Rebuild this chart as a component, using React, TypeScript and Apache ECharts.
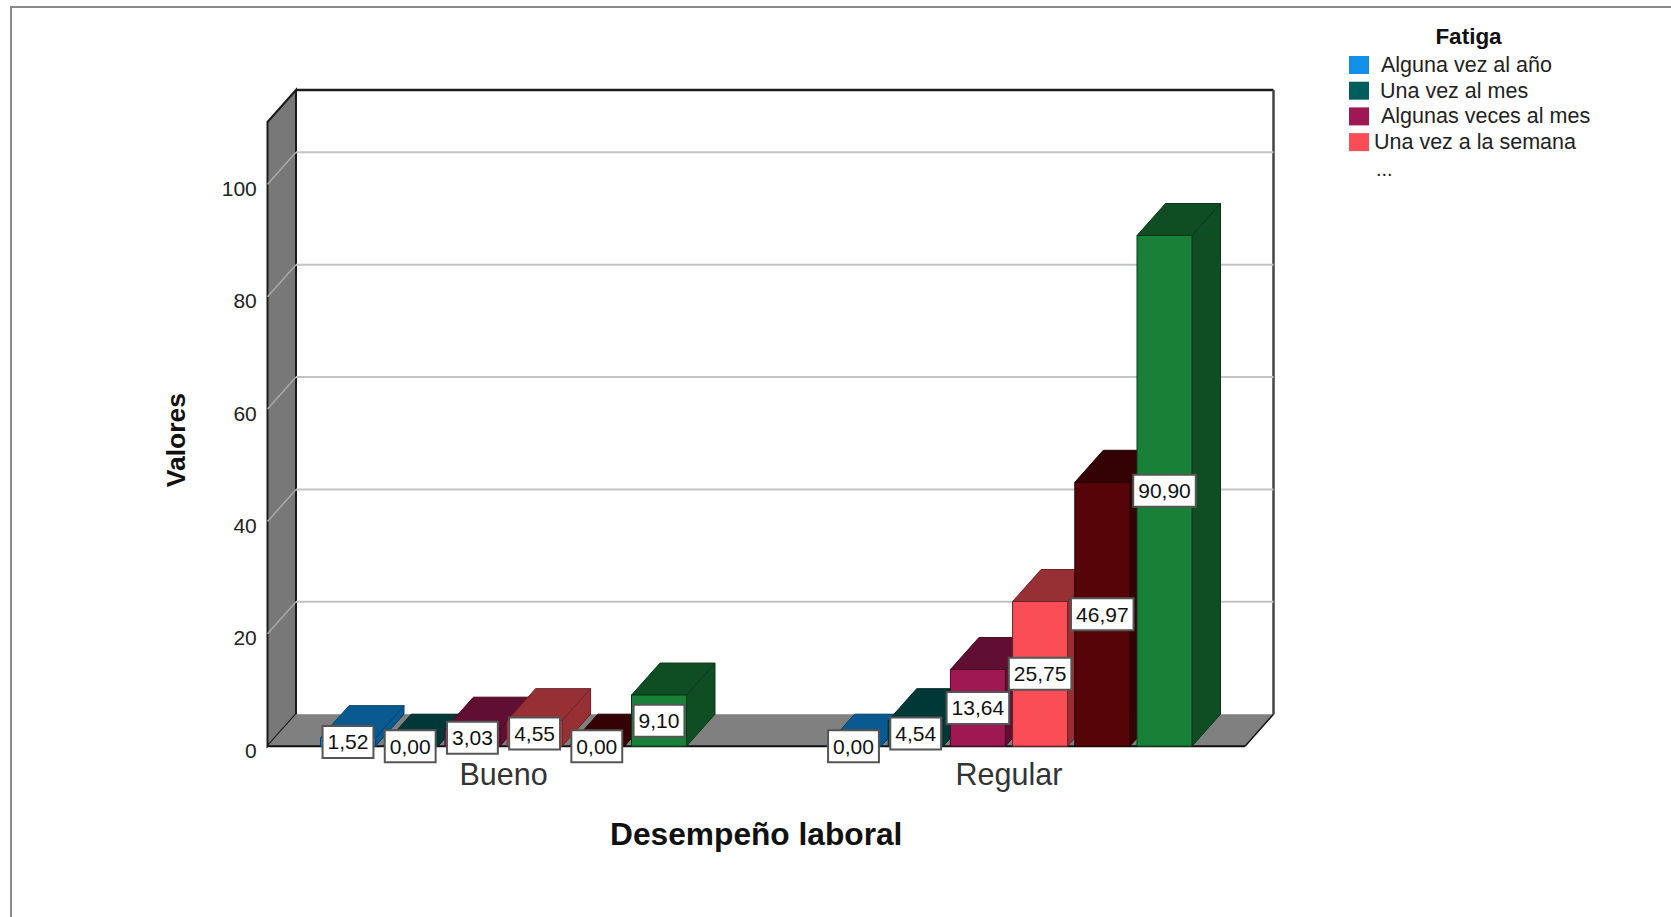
import React, { useEffect, useRef } from "react";
import * as echarts from "echarts";

const categories = ["Bueno", "Regular"];
const seriesNames = [
  "Alguna vez al año",
  "Una vez al mes",
  "Algunas veces al mes",
  "Una vez a la semana",
  "Pocas veces a la semana",
  "Todos los días",
];
const algunaVezAlAno = [1.52, 0.0];
const unaVezAlMes = [0.0, 4.54];
const algunasVecesAlMes = [3.03, 13.64];
const unaVezALaSemana = [4.55, 25.75];
const pocasVecesALaSemana = [0.0, 46.97];
const todosLosDias = [9.1, 90.9];
const seriesValues = [
  algunaVezAlAno,
  unaVezAlMes,
  algunasVecesAlMes,
  unaVezALaSemana,
  pocasVecesALaSemana,
  todosLosDias,
];
const frontColors = ["#1192e8", "#005d5d", "#9f1853", "#fa4d56", "#570408", "#198038"];
const topColors = ["#0a5a92", "#003838", "#600e32", "#973035", "#340205", "#0f4d22"];
const edgeColors = ["#07416a", "#002828", "#450a24", "#6d2327", "#240103", "#0b3818"];
const yTicks = [0, 20, 40, 60, 80, 100];
const legendLabelPadding = [7, 6, 7, 0];

const FONT = "'Liberation Sans', Arial, sans-serif";
const GRID_LEFT = 250.75;
const GRID_WIDTH = 1011;
const GRID_TOP = 122;
const GRID_BOTTOM_Y = 746.2;
const Y_MAX = 111.1;
const DEPTH_X = 28.5;
const DEPTH_Y = 32;
const WALL_LEFT = 267.5;
const WALL_RIGHT = 1245;
const BAR_WIDTH = 55;
const BAR_PITCH = 62.2;

export default function App() {
  const ref = useRef<HTMLDivElement>(null);

  useEffect(() => {
    if (!ref.current) return;
    const chart = echarts.init(ref.current, undefined, { renderer: "svg" });

    const wallSeries = {
      type: "custom",
      name: "wall",
      coordinateSystem: "cartesian2d",
      silent: true,
      z: 1,
      data: [[0, 0]],
      encode: { x: 0, y: 1 },
      renderItem: (_p: any, api: any) => {
        const base = api.coord([0, 0])[1];
        const top = api.coord([0, Y_MAX])[1];
        const bx = WALL_LEFT + DEPTH_X;
        const ex = WALL_RIGHT + DEPTH_X;
        return {
          type: "group",
          children: [
            {
              type: "polygon",
              shape: { points: [[WALL_LEFT, top], [bx, top - DEPTH_Y], [bx, base - DEPTH_Y], [WALL_LEFT, base]] },
              style: { fill: "#787878", stroke: "#1a1a1a", lineWidth: 2 },
            },
            {
              type: "polygon",
              shape: { points: [[WALL_LEFT, base], [bx, base - DEPTH_Y], [ex, base - DEPTH_Y], [WALL_RIGHT, base]] },
              style: { fill: "#808080", stroke: "none" },
            },
            { type: "line", shape: { x1: WALL_LEFT, y1: base, x2: WALL_RIGHT, y2: base }, style: { stroke: "#111", lineWidth: 2 } },
            { type: "line", shape: { x1: WALL_RIGHT, y1: base, x2: ex, y2: base - DEPTH_Y }, style: { stroke: "#111", lineWidth: 1.5 } },
            { type: "line", shape: { x1: bx, y1: top - DEPTH_Y, x2: ex, y2: top - DEPTH_Y }, style: { stroke: "#1a1a1a", lineWidth: 2.5 } },
            { type: "line", shape: { x1: ex, y1: top - DEPTH_Y, x2: ex, y2: base - DEPTH_Y }, style: { stroke: "#444", lineWidth: 2.5 } },
          ],
        };
      },
    };

    const gridSeries = {
      type: "custom",
      name: "grid",
      coordinateSystem: "cartesian2d",
      silent: true,
      z: 2,
      data: yTicks.filter((t) => t > 0).map((t) => [0, t]),
      encode: { x: 0, y: 1 },
      renderItem: (_p: any, api: any) => {
        const y = api.coord([0, api.value(1)])[1];
        const bx = WALL_LEFT + DEPTH_X;
        return {
          type: "group",
          children: [
            { type: "line", shape: { x1: WALL_LEFT, y1: y, x2: bx, y2: y - DEPTH_Y }, style: { stroke: "#a9a9a9", lineWidth: 1.5 } },
            { type: "line", shape: { x1: bx, y1: y - DEPTH_Y, x2: WALL_RIGHT + DEPTH_X, y2: y - DEPTH_Y }, style: { stroke: "#c4c4c4", lineWidth: 2 } },
          ],
        };
      },
    };

    const barSeries = seriesNames.map((name, i) => ({
      type: "custom",
      name,
      coordinateSystem: "cartesian2d",
      silent: true,
      z: 3,
      itemStyle: { color: frontColors[i] },
      data: seriesValues[i].map((v, c) => [c, v]),
      encode: { x: 0, y: 1 },
      renderItem: (_p: any, api: any) => {
        const cat = api.value(0);
        const val = api.value(1);
        const pTop = api.coord([cat, val]);
        const base = api.coord([cat, 0])[1];
        const cx = pTop[0] + (i - 2.5) * BAR_PITCH;
        const yTop = pTop[1];
        const x0 = cx - BAR_WIDTH / 2;
        const x1 = cx + BAR_WIDTH / 2;
        const stroke = edgeColors[i];
        const elements: any[] = [
          {
            type: "polygon",
            z2: i,
            shape: { points: [[x1, yTop], [x1 + DEPTH_X, yTop - DEPTH_Y], [x1 + DEPTH_X, base - DEPTH_Y], [x1, base]] },
            style: { fill: topColors[i], stroke, lineWidth: 1 },
          },
          {
            type: "polygon",
            z2: i,
            shape: { points: [[x0, yTop], [x0 + DEPTH_X, yTop - DEPTH_Y], [x1 + DEPTH_X, yTop - DEPTH_Y], [x1, yTop]] },
            style: { fill: topColors[i], stroke, lineWidth: 1 },
          },
          {
            type: "rect",
            z2: i,
            shape: { x: x0, y: yTop, width: BAR_WIDTH, height: base - yTop },
            style: { fill: frontColors[i], stroke, lineWidth: 1 },
          },
          {
            type: "text",
            z2: 100,
            x: cx,
            y: (yTop + base) / 2,
            style: {
              text: val.toFixed(2).replace(".", ","),
              font: `21px ${FONT}`,
              fill: "#111",
              align: "center",
              verticalAlign: "middle",
              lineHeight: 23,
              backgroundColor: "#fff",
              borderColor: "#555",
              borderWidth: 2,
              padding: [4, 4, 3, 4],
            },
          },
        ];
        return { type: "group", children: elements };
      },
    }));

    chart.setOption({
      animation: false,
      backgroundColor: "#fff",
      title: {
        text: "Fatiga",
        left: 1463.5,
        top: 20,
        textAlign: "center",
        textStyle: { fontFamily: FONT, fontSize: 22.5, fontWeight: "bold", color: "#111" },
      },
      legend: {
        show: true,
        orient: "vertical",
        left: 1349,
        top: 52.5,
        padding: 0,
        itemWidth: 20,
        itemHeight: 18,
        itemGap: 0.7,
        icon: "rect",
        selectedMode: false,
        textStyle: { fontFamily: FONT, fontSize: 21.5, color: "#222", lineHeight: 18 },
        data: seriesNames.slice(0, 4).map((name, i) => ({
          name,
          icon: "rect",
          textStyle: { padding: [7, 0, 0, legendLabelPadding[i]] },
        })),
      },
      grid: {
        left: GRID_LEFT,
        width: GRID_WIDTH,
        top: GRID_TOP,
        bottom: 917 - GRID_BOTTOM_Y,
        containLabel: false,
      },
      xAxis: {
        type: "category",
        data: categories,
        boundaryGap: true,
        axisLine: { show: false },
        axisTick: { show: false },
        axisLabel: { fontFamily: FONT, fontSize: 30.5, color: "#333", margin: 12 },
        name: "Desempeño laboral",
        nameLocation: "middle",
        nameGap: 72,
        nameTextStyle: { fontFamily: FONT, fontSize: 31.7, fontWeight: "bold", color: "#111" },
      },
      yAxis: {
        type: "value",
        min: 0,
        max: Y_MAX,
        interval: 20,
        axisLine: { show: false },
        axisTick: { show: false },
        splitLine: { show: false },
        axisLabel: {
          fontFamily: FONT,
          fontSize: 21,
          color: "#222",
          margin: -6,
          showMaxLabel: false,
          verticalAlign: "top",
          lineHeight: 8,
        },
        name: "Valores",
        nameLocation: "middle",
        nameRotate: 90,
        nameGap: 61,
        nameTextStyle: { fontFamily: FONT, fontSize: 26.5, fontWeight: "bold", color: "#111", padding: [0, 12, 0, 0] },
      },
      graphic: [
        {
          type: "polyline",
          silent: true,
          shape: { points: [[1671, 7], [11, 7], [11, 917]] },
          style: { fill: "none", stroke: "#8a8a8a", lineWidth: 2 },
        },
        {
          type: "text",
          silent: true,
          x: 1376,
          y: 158.5,
          style: { text: "...", font: `20px ${FONT}`, fill: "#222" },
        },
      ],
      series: [wallSeries, gridSeries, ...barSeries],
    });

    return () => chart.dispose();
  }, []);

  return <div ref={ref} style={{ position: "fixed", left: 0, top: 0, width: 1671, height: 917 }} />;
}
